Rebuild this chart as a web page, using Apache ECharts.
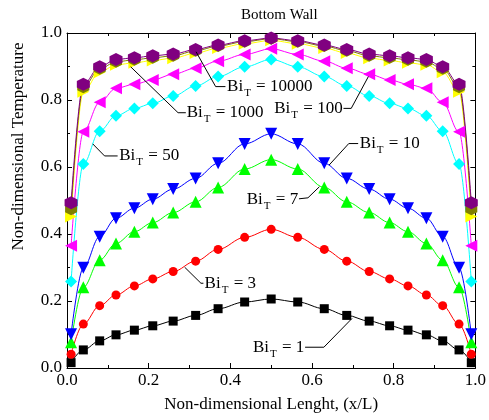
<!DOCTYPE html>
<html><head><meta charset="utf-8">
<script src="https://cdn.jsdelivr.net/npm/echarts@6/dist/echarts.min.js"></script>
<style>html,body{margin:0;padding:0;background:#fff}#c{width:489px;height:420px}</style>
</head><body><div id="c"></div>
<script>
// ---- data ----
const xPos = [0.01, 0.04, 0.08, 0.12, 0.165, 0.21, 0.26, 0.315, 0.37, 0.435, 0.5, 0.565, 0.63, 0.685, 0.74, 0.79, 0.835, 0.88, 0.92, 0.96, 0.99];
const bi1 = [0.016, 0.054, 0.081, 0.099, 0.113, 0.126, 0.140, 0.157, 0.177, 0.197, 0.206, 0.197, 0.177, 0.157, 0.140, 0.126, 0.113, 0.099, 0.081, 0.054, 0.016];
const bi3 = [0.041, 0.131, 0.186, 0.218, 0.245, 0.266, 0.288, 0.319, 0.354, 0.390, 0.414, 0.390, 0.354, 0.319, 0.288, 0.266, 0.245, 0.218, 0.186, 0.131, 0.041];
const bi7 = [0.077, 0.241, 0.322, 0.372, 0.407, 0.434, 0.464, 0.496, 0.539, 0.594, 0.622, 0.594, 0.539, 0.496, 0.464, 0.434, 0.407, 0.372, 0.322, 0.241, 0.077];
const bi10 = [0.101, 0.299, 0.392, 0.447, 0.477, 0.504, 0.534, 0.566, 0.611, 0.669, 0.699, 0.669, 0.611, 0.566, 0.534, 0.504, 0.477, 0.447, 0.392, 0.299, 0.101];
const bi50 = [0.258, 0.609, 0.707, 0.753, 0.775, 0.790, 0.812, 0.842, 0.870, 0.899, 0.921, 0.899, 0.870, 0.842, 0.812, 0.790, 0.775, 0.753, 0.707, 0.609, 0.258];
const bi100 = [0.365, 0.705, 0.793, 0.835, 0.847, 0.860, 0.877, 0.895, 0.916, 0.936, 0.953, 0.936, 0.916, 0.895, 0.877, 0.860, 0.847, 0.835, 0.793, 0.705, 0.365];
const biYellow = [0.452, 0.825, 0.883, 0.905, 0.911, 0.918, 0.925, 0.940, 0.955, 0.968, 0.978, 0.968, 0.955, 0.940, 0.925, 0.918, 0.911, 0.905, 0.883, 0.825, 0.452];
const bi1000 = [0.474, 0.838, 0.893, 0.914, 0.920, 0.926, 0.932, 0.947, 0.961, 0.974, 0.983, 0.974, 0.961, 0.947, 0.932, 0.926, 0.920, 0.914, 0.893, 0.838, 0.474];
const bi10000 = [0.493, 0.847, 0.899, 0.921, 0.926, 0.932, 0.937, 0.951, 0.964, 0.977, 0.985, 0.977, 0.964, 0.951, 0.937, 0.932, 0.926, 0.921, 0.899, 0.847, 0.493];
const tickValues = [0.0, 0.2, 0.4, 0.6, 0.8, 1.0];

// annotation labels (value after "Bi_T = "), text anchor and leader line in data coordinates
const annoLabels = ['10000', '1000', '100', '50', '10', '7', '3', '1'];
const annoAnchor = [[0.392, 0.840], [0.293, 0.762], [0.675, 0.775], [0.128, 0.633], [0.717, 0.669], [0.566, 0.503], [0.337, 0.252], [0.581, 0.060]];
const annoAlign = ['left', 'left', 'right', 'left', 'left', 'right', 'left', 'right'];
const annoLines = [
  [[0.316, 0.944], [0.364, 0.840], [0.388, 0.840]],
  [[0.156, 0.899], [0.272, 0.762], [0.291, 0.762]],
  [[0.677, 0.775], [0.696, 0.775], [0.738, 0.870]],
  [[0.063, 0.669], [0.092, 0.633], [0.124, 0.633]],
  [[0.642, 0.606], [0.690, 0.670], [0.713, 0.670]],
  [[0.568, 0.505], [0.590, 0.508], [0.618, 0.541]],
  [[0.288, 0.301], [0.328, 0.253], [0.334, 0.253]],
  [[0.583, 0.062], [0.629, 0.062], [0.698, 0.148]]
];

const serif = '"Liberation Serif", "DejaVu Serif", serif';
const hexagon = 'path://M0,-10 L8.66,-5 L8.66,5 L0,10 L-8.66,5 L-8.66,-5 Z';

function mk(name, vals, color, symbol, size, rotate) {
  return {
    type: 'line', name: name,
    data: xPos.map((x, i) => [x, vals[i]]),
    smooth: 0.35, smoothMonotone: 'x',
    symbol: symbol, symbolSize: size, symbolRotate: rotate || 0,
    showAllSymbol: true,
    lineStyle: { color: color, width: 1 },
    itemStyle: { color: color, borderWidth: 0 },
    emphasis: { disabled: true },
    animation: false
  };
}

function xAx(pos, showLabel) {
  return {
    type: 'value', position: pos, min: 0, max: 1, interval: 0.2,
    splitLine: { show: false },
    axisLine: { show: true, onZero: false, lineStyle: { color: '#000', width: 1 } },
    axisTick: { show: true, inside: true, length: 5, lineStyle: { color: '#000' } },
    minorTick: { show: true, splitNumber: 2, length: 3, lineStyle: { color: '#000' } },
    axisLabel: { show: showLabel, color: '#000', fontFamily: serif, fontSize: 17, margin: 4,
      formatter: v => v.toFixed(1) }
  };
}

const chart = echarts.init(document.getElementById('c'));
const xa0 = xAx('bottom', true);
xa0.name = 'Non-dimensional Lenght, (x/L)';
xa0.nameLocation = 'middle';
xa0.nameGap = 28;
xa0.nameTextStyle = { color: '#000', fontFamily: serif, fontSize: 17 };
const xa1 = xAx('top', false);
const ya0 = xAx('left', true);
ya0.axisLabel.margin = 5;
ya0.name = 'Non-dimensional Temperature';
ya0.nameLocation = 'middle';
ya0.nameGap = 40;
ya0.nameTextStyle = { color: '#000', fontFamily: serif, fontSize: 17, padding: [0, 0, 0, 108] };
const ya1 = xAx('right', false);

chart.setOption({
  animation: false,
  backgroundColor: '#fff',
  title: { text: 'Bottom Wall', left: 236, top: 3,
    textStyle: { color: '#000', fontFamily: serif, fontSize: 15, fontWeight: 'normal' } },
  grid: { left: 67, right: 7, top: 33, bottom: 52 },
  xAxis: [xa0, xa1],
  yAxis: [ya0, ya1],
  series: [
    mk('Bi=1', bi1, '#000000', 'rect', 9),
    mk('Bi=3', bi3, '#ff0000', 'circle', 9),
    mk('Bi=7', bi7, '#00ff00', 'triangle', 12),
    mk('Bi=10', bi10, '#0000ff', 'triangle', 12, 180),
    mk('Bi=50', bi50, '#00ffff', 'diamond', 12),
    mk('Bi=100', bi100, '#ff00ff', 'triangle', 12, 90),
    mk('Bi=yellow', biYellow, '#ffff00', 'triangle', 12, -90),
    mk('Bi=1000', bi1000, '#808000', hexagon, 12),
    mk('Bi=10000', bi10000, '#800080', hexagon, 13)
  ]
});

const rich = {
  b: { fontFamily: serif, fontSize: 17, color: '#000', lineHeight: 17 },
  s: { fontFamily: serif, fontSize: 11, color: '#000', padding: [13, 1, 0, 1], verticalAlign: 'bottom' }
};
const graphics = [];
annoLabels.forEach((lab, i) => {
  const pts = annoLines[i].map(p => chart.convertToPixel({ gridIndex: 0 }, p));
  graphics.push({ type: 'polyline', shape: { points: pts }, style: { stroke: '#000', lineWidth: 1, fill: null }, z: 100, silent: true });
  const a = chart.convertToPixel({ gridIndex: 0 }, annoAnchor[i]);
  graphics.push({ type: 'text', x: a[0], y: a[1], z: 101, silent: true,
    style: { text: '{b|Bi}{s|T}{b| = ' + lab + '}', rich: rich, align: annoAlign[i], verticalAlign: 'middle' } });
});
chart.setOption({ graphic: graphics });
</script>
</body></html>
